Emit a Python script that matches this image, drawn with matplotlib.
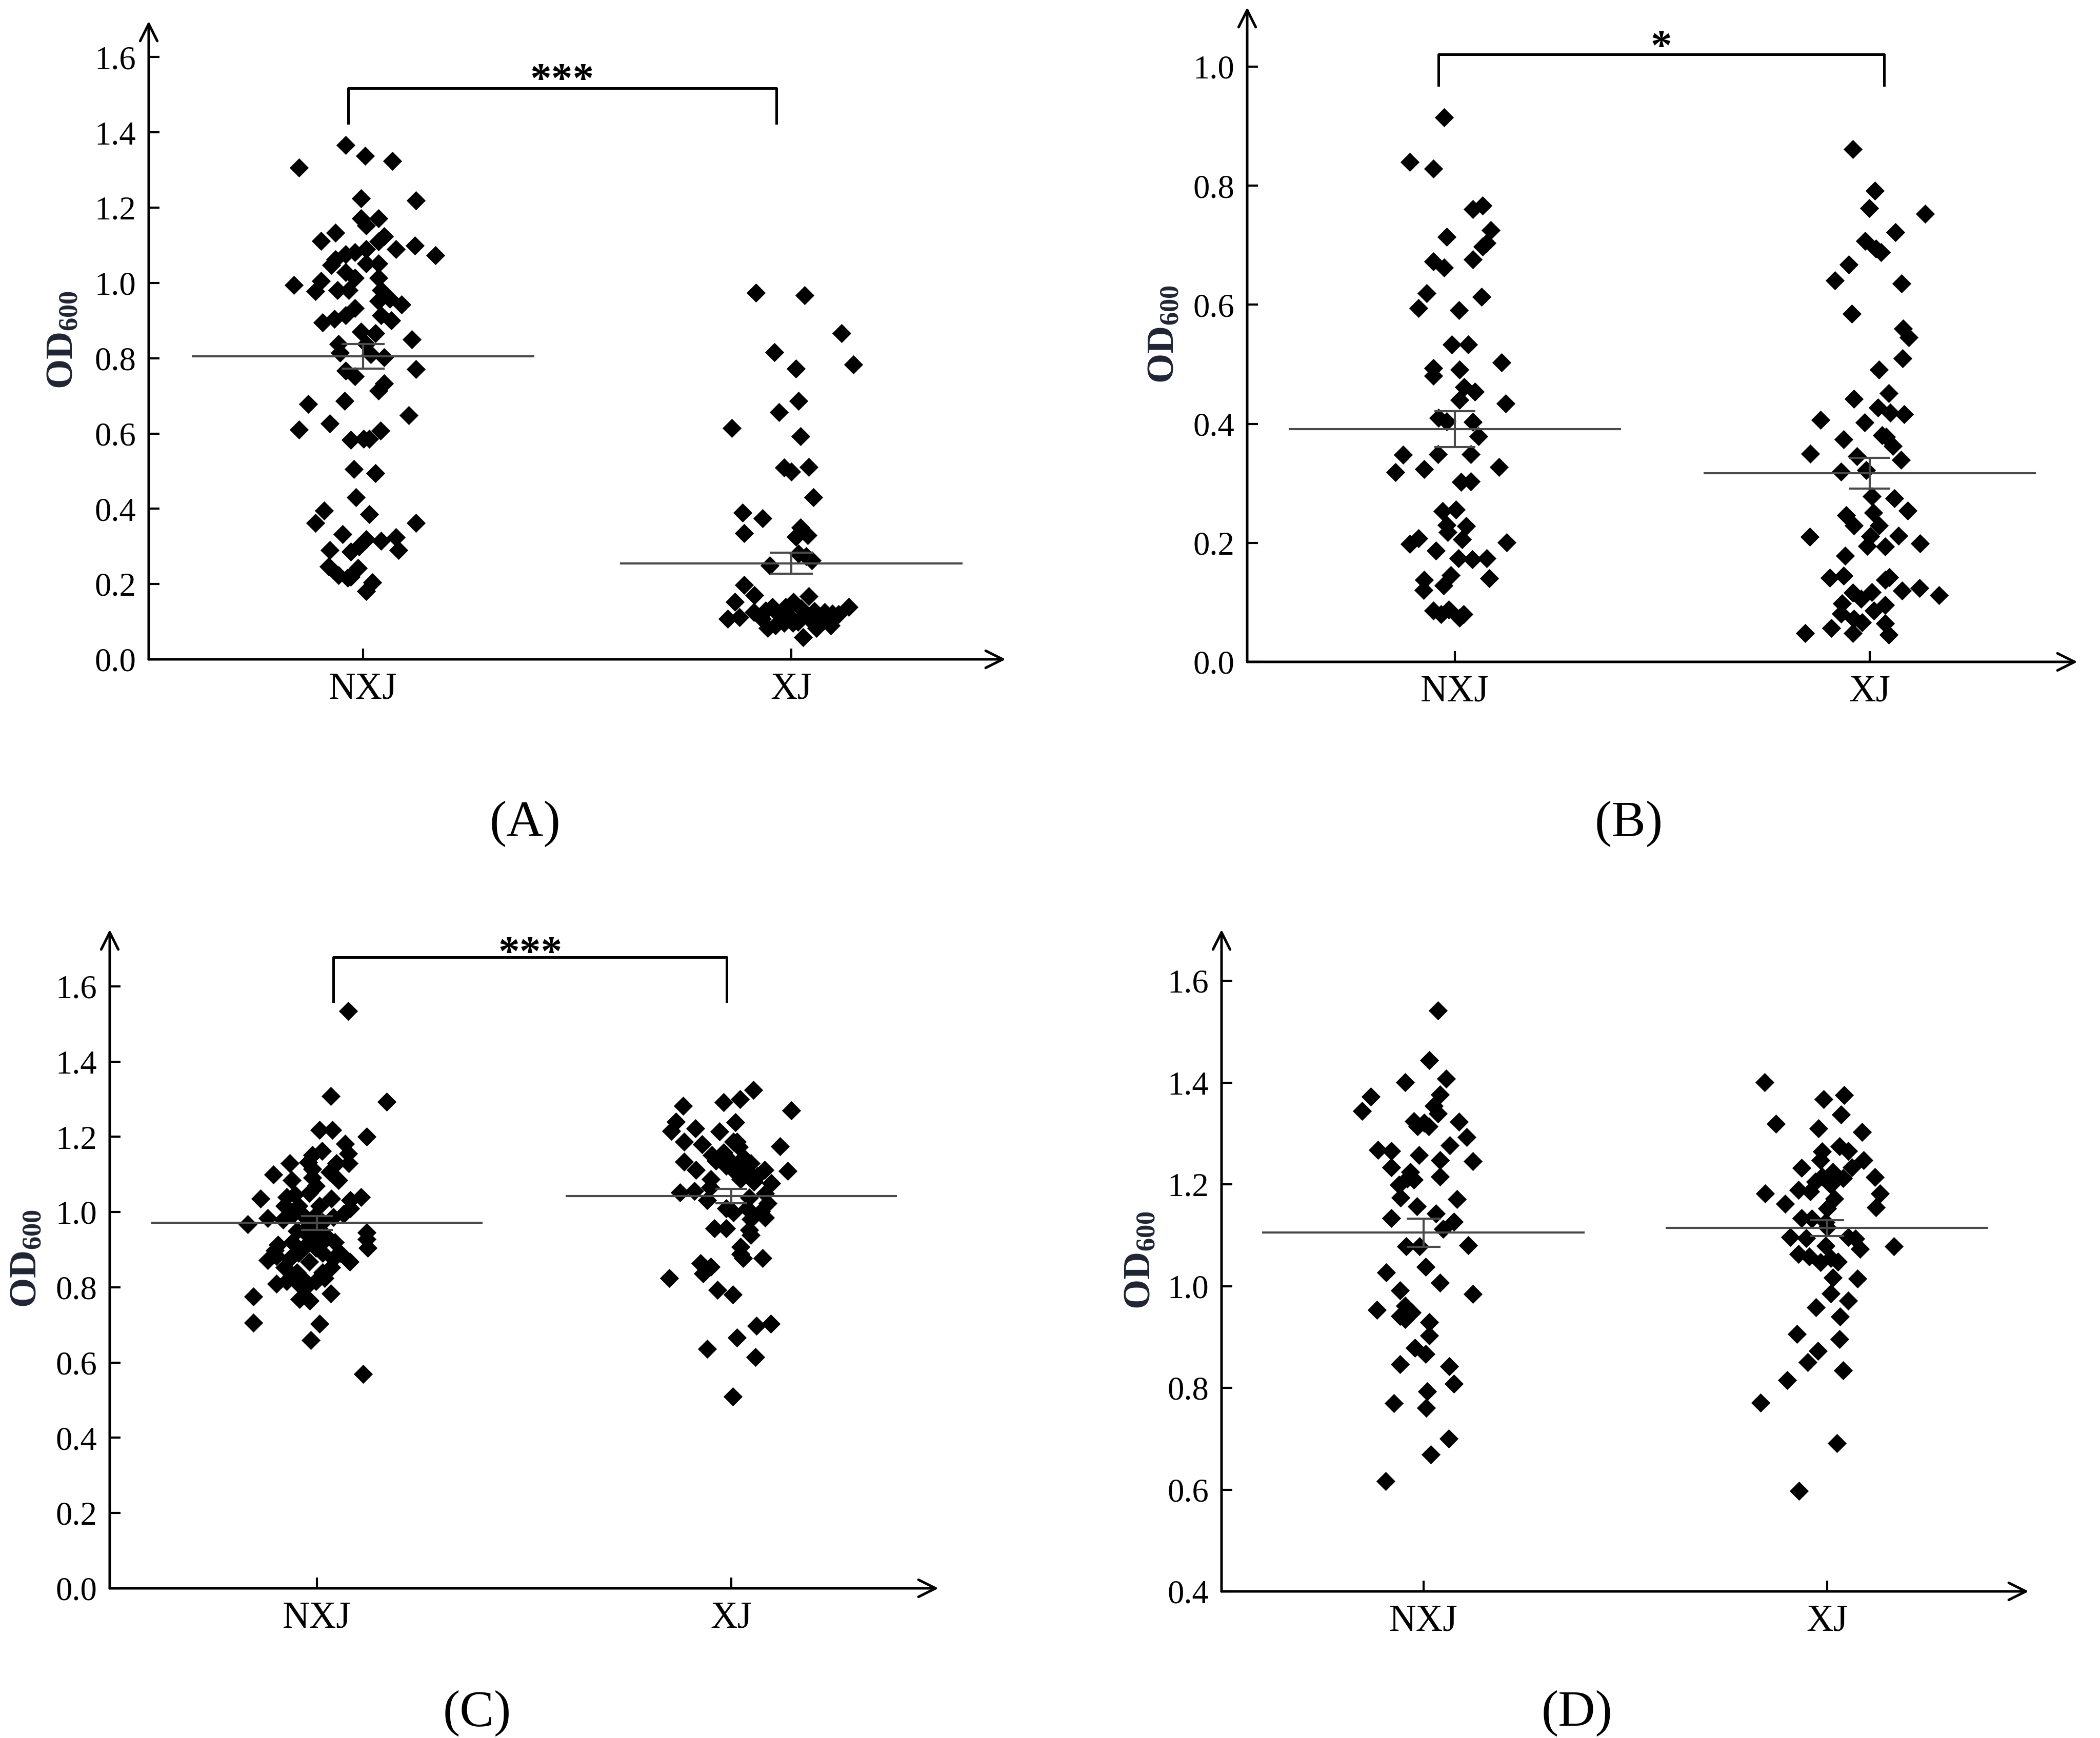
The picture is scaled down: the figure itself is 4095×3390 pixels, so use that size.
"""OD600 scatter panels (A-D): NXJ vs XJ, mean line + SEM, significance brackets."""

import matplotlib
matplotlib.use("Agg")
import matplotlib.pyplot as plt

plt.rcParams["font.family"] = ["Liberation Serif", "DejaVu Serif"]
plt.rcParams["mathtext.fontset"] = "custom"
plt.rcParams["mathtext.rm"] = "Liberation Serif"
plt.rcParams["mathtext.bf"] = "Liberation Serif:bold"
plt.rcParams["mathtext.default"] = "regular"

W, H, DPI = 4095, 3390, 300
GROUPS = ["NXJ", "XJ"]
INK = "black"
MEAN_C = "#4a4a4a"

# ---- panel A ---------------------------------------------------------------
A_NXJ_Y = [1.367, 1.338, 1.324, 1.307, 1.224, 1.219, 1.171, 1.171, 1.152, 1.133,
           1.124, 1.112, 1.110, 1.090, 1.100, 1.074, 1.090, 1.081, 1.076, 1.062,
           1.048, 1.052, 1.052, 1.029, 1.014, 1.014, 0.995, 1.005, 0.978, 0.981,
           0.981, 0.981, 0.933, 0.952, 0.957, 0.943, 0.895, 0.905, 0.914, 0.914,
           0.900, 0.871, 0.867, 0.838, 0.838, 0.850, 0.814, 0.810, 0.802, 0.767,
           0.752, 0.771, 0.733, 0.714, 0.678, 0.686, 0.610, 0.627, 0.648, 0.583,
           0.586, 0.586, 0.608, 0.505, 0.495, 0.430, 0.395, 0.386, 0.362, 0.362,
           0.333, 0.319, 0.314, 0.324, 0.290, 0.286, 0.300, 0.290, 0.246, 0.243,
           0.224, 0.219, 0.205, 0.181, 0.217]
A_NXJ_DX = [-0.040, 0.005, 0.068, -0.149, -0.005, 0.123, -0.005, 0.036, 0.008, -0.064,
            0.049, -0.098, 0.036, 0.077, 0.121, 0.169, 0.008, -0.019, -0.040, -0.064,
            -0.074, 0.008, 0.036, -0.040, -0.019, 0.036, -0.161, -0.098, -0.111, -0.060,
            -0.033, 0.042, -0.019, 0.036, 0.063, 0.090, -0.094, -0.067, -0.040, 0.042,
            0.066, -0.005, 0.029, -0.057, 0.008, 0.114, -0.053, 0.018, 0.049, -0.040,
            -0.019, 0.124, 0.049, 0.036, -0.128, -0.043, -0.149, -0.077, 0.107, -0.029,
            0.001, 0.015, 0.041, -0.021, 0.029, -0.016, -0.091, 0.015, -0.111, 0.124,
            -0.048, 0.008, 0.042, 0.077, -0.077, -0.029, -0.009, 0.083, -0.080, -0.012,
            -0.057, -0.029, 0.022, 0.008, -0.036]
A_XJ_Y = [0.974, 0.967, 0.866, 0.816, 0.783, 0.773, 0.687, 0.657, 0.615, 0.593,
          0.509, 0.498, 0.511, 0.431, 0.389, 0.374, 0.335, 0.350, 0.326, 0.329,
          0.281, 0.249, 0.263, 0.274, 0.198, 0.170, 0.168, 0.152, 0.139, 0.107,
          0.112, 0.125, 0.107, 0.083, 0.139, 0.118, 0.139, 0.152, 0.097, 0.135,
          0.059, 0.111, 0.128, 0.100, 0.125, 0.090, 0.121, 0.097, 0.090, 0.083,
          0.115, 0.105, 0.130, 0.100, 0.120]
A_XJ_DX = [-0.083, 0.031, 0.117, -0.040, 0.144, 0.011, 0.017, -0.029, -0.139, 0.021,
           -0.017, 0.000, 0.040, 0.051, -0.114, -0.067, -0.111, 0.021, 0.011, 0.038,
           0.017, -0.051, 0.048, 0.035, -0.111, -0.087, 0.040, -0.132, 0.134, -0.149,
           -0.121, -0.088, -0.069, -0.055, -0.045, -0.029, -0.013, 0.005, 0.003, 0.023,
           0.027, 0.039, 0.054, 0.066, 0.078, 0.092, 0.096, -0.017, -0.037, 0.058,
           -0.005, 0.070, -0.060, 0.015, 0.110]
A_MEAN = [0.805, 0.255]
A_SEM = [0.033, 0.028]

# ---- panel B ---------------------------------------------------------------
B_NXJ_Y = [0.915, 0.840, 0.829, 0.761, 0.767, 0.725, 0.714, 0.698, 0.704, 0.673,
           0.662, 0.676, 0.619, 0.594, 0.613, 0.591, 0.533, 0.533, 0.503, 0.494,
           0.481, 0.491, 0.462, 0.454, 0.440, 0.434, 0.410, 0.404, 0.403, 0.379,
           0.348, 0.349, 0.349, 0.319, 0.324, 0.327, 0.302, 0.303, 0.253, 0.256,
           0.230, 0.228, 0.218, 0.206, 0.198, 0.208, 0.201, 0.187, 0.174, 0.172,
           0.174, 0.138, 0.146, 0.121, 0.128, 0.140, 0.086, 0.080, 0.088, 0.074,
           0.080]
B_NXJ_DX = [-0.026, -0.108, -0.052, 0.043, 0.067, 0.087, -0.019, 0.067, 0.077, -0.051,
            -0.026, 0.043, -0.068, -0.088, 0.064, 0.010, -0.007, 0.033, 0.113, -0.052,
            -0.052, 0.012, 0.023, 0.049, 0.011, 0.123, -0.039, -0.019, 0.043, 0.057,
            -0.124, -0.041, 0.038, -0.143, -0.074, 0.107, 0.015, 0.039, -0.029, 0.003,
            -0.019, 0.028, -0.017, 0.017, -0.109, -0.087, 0.125, -0.046, 0.009, 0.042,
            0.077, -0.074, -0.009, -0.075, -0.027, 0.083, -0.051, -0.033, -0.015, 0.011,
            0.021]
B_XJ_Y = [0.861, 0.792, 0.762, 0.753, 0.722, 0.707, 0.694, 0.688, 0.668, 0.641,
          0.636, 0.585, 0.560, 0.545, 0.510, 0.491, 0.442, 0.451, 0.427, 0.419,
          0.416, 0.407, 0.402, 0.374, 0.381, 0.378, 0.363, 0.350, 0.345, 0.339,
          0.320, 0.322, 0.278, 0.275, 0.254, 0.246, 0.251, 0.229, 0.229, 0.210,
          0.211, 0.212, 0.195, 0.194, 0.199, 0.178, 0.141, 0.145, 0.138, 0.142,
          0.116, 0.117, 0.120, 0.124, 0.112, 0.098, 0.106, 0.086, 0.096, 0.081,
          0.072, 0.066, 0.065, 0.048, 0.057, 0.048, 0.046]
B_XJ_DX = [-0.041, 0.012, -0.002, 0.133, 0.062, -0.012, 0.015, 0.027, -0.051, -0.084,
           0.076, -0.044, 0.080, 0.093, 0.079, 0.022, -0.039, 0.045, 0.019, 0.049,
           0.082, -0.119, -0.013, -0.063, 0.029, 0.039, 0.055, -0.144, -0.031, 0.075,
           -0.070, -0.009, 0.005, 0.059, 0.091, -0.057, 0.008, -0.039, 0.022, -0.145,
           0.001, 0.069, -0.007, 0.037, 0.121, -0.060, -0.097, -0.063, 0.037, 0.047,
           -0.041, 0.005, 0.077, 0.119, 0.167, -0.067, -0.021, 0.009, 0.037, -0.069,
           -0.039, -0.019, 0.037, -0.156, -0.093, -0.041, 0.045]
B_MEAN = [0.391, 0.317]
B_SEM = [0.030, 0.026]

# ---- panel C ---------------------------------------------------------------
C_NXJ_Y = [1.535, 1.308, 1.293, 1.218, 1.218, 1.201, 1.181, 1.162, 1.155, 1.133,
           1.129, 1.129, 1.114, 1.099, 1.084, 1.107, 1.092, 1.084, 1.069, 1.036,
           1.040, 1.047, 1.051, 1.036, 1.040, 1.017, 1.017, 1.017, 1.010, 0.967,
           0.984, 0.980, 0.995, 0.987, 0.973, 0.987, 0.995, 0.965, 0.950, 0.950,
           0.946, 0.928, 0.905, 0.913, 0.920, 0.909, 0.920, 0.920, 0.872, 0.883,
           0.876, 0.891, 0.868, 0.891, 0.876, 0.868, 0.853, 0.839, 0.839, 0.853,
           0.809, 0.816, 0.809, 0.798, 0.775, 0.768, 0.764, 0.783, 0.706, 0.703,
           0.660, 0.570, 0.824, 0.816, 0.824, 0.831, 0.891, 0.935, 0.935, 1.151,
           1.129, 0.995, 1.032, 0.898, 0.905]
C_NXJ_DX = [0.076, 0.033, 0.168, 0.006, 0.037, 0.120, 0.068, 0.012, 0.075, -0.021,
            -0.065, 0.077, -0.011, -0.105, -0.061, 0.031, -0.011, 0.052, -0.003, -0.136,
            -0.073, -0.053, -0.019, 0.035, 0.106, -0.078, -0.044, 0.006, 0.081, -0.167,
            -0.119, -0.082, -0.036, -0.007, 0.014, 0.039, 0.064, -0.019, -0.048, 0.002,
            0.120, 0.120, 0.123, -0.094, -0.060, -0.028, 0.014, 0.043, -0.119, -0.098,
            -0.065, -0.044, -0.019, 0.014, 0.039, 0.079, -0.078, -0.048, 0.014, 0.035,
            -0.098, -0.073, -0.044, -0.028, -0.153, -0.042, -0.017, 0.034, -0.153, 0.006,
            -0.015, 0.112, 0.018, -0.002, -0.036, -0.061, 0.056, -0.019, 0.023, -0.011,
            0.047, -0.057, 0.081, -0.102, -0.003]
C_XJ_Y = [1.325, 1.292, 1.300, 1.282, 1.270, 1.240, 1.238, 1.215, 1.222, 1.214,
          1.187, 1.180, 1.187, 1.173, 1.174, 1.151, 1.158, 1.137, 1.144, 1.130,
          1.134, 1.112, 1.137, 1.112, 1.109, 1.102, 1.112, 1.109, 1.087, 1.087,
          1.080, 1.077, 1.066, 1.052, 1.056, 1.031, 1.038, 1.049, 1.024, 1.010,
          0.999, 1.010, 1.002, 0.981, 0.985, 0.956, 0.956, 0.953, 0.939, 0.907,
          0.889, 0.878, 0.878, 0.864, 0.850, 0.854, 0.836, 0.825, 0.793, 0.781,
          0.698, 0.703, 0.667, 0.637, 0.614, 0.510, 1.187, 1.123, 1.123, 1.095]
C_XJ_DX = [0.053, -0.018, 0.021, -0.116, 0.145, -0.134, 0.010, -0.145, -0.087, -0.029,
           -0.114, -0.070, 0.005, 0.018, 0.118, -0.047, -0.018, -0.003, 0.030, 0.047,
           -0.114, -0.085, -0.037, 0.005, 0.022, 0.043, 0.080, 0.136, -0.049, 0.022,
           0.055, 0.097, -0.051, -0.124, -0.089, -0.058, 0.043, 0.082, 0.088, -0.012,
           0.005, 0.038, 0.072, 0.047, 0.082, -0.041, -0.012, 0.043, 0.047, 0.022,
           0.022, 0.028, 0.076, -0.074, -0.062, -0.049, -0.068, -0.150, -0.033, 0.004,
           0.061, 0.095, 0.013, -0.058, 0.058, 0.004, 0.013, -0.012, 0.030, 0.063]
C_MEAN = [0.971, 1.042]
C_SEM = [0.018, 0.019]

# ---- panel D ---------------------------------------------------------------
D_NXJ_Y = [1.542, 1.444, 1.401, 1.408, 1.372, 1.377, 1.344, 1.354, 1.339, 1.324,
           1.314, 1.321, 1.314, 1.323, 1.293, 1.268, 1.266, 1.258, 1.277, 1.246,
           1.248, 1.233, 1.224, 1.211, 1.215, 1.199, 1.209, 1.174, 1.171, 1.157,
           1.134, 1.143, 1.127, 1.112, 1.078, 1.078, 1.080, 1.038, 1.027, 1.007,
           0.984, 0.992, 0.953, 0.961, 0.941, 0.948, 0.935, 0.929, 0.903, 0.879,
           0.867, 0.846, 0.842, 0.808, 0.793, 0.770, 0.761, 0.700, 0.669, 0.617]
D_NXJ_DX = [0.036, 0.014, -0.045, 0.056, -0.130, 0.041, -0.152, 0.026, 0.036, -0.024,
            -0.015, 0.002, 0.013, 0.088, 0.108, -0.113, -0.079, -0.011, 0.066, 0.122,
            0.041, -0.079, -0.032, -0.040, 0.041, -0.060, -0.024, -0.056, 0.083, -0.016,
            -0.079, 0.031, 0.075, 0.049, -0.043, -0.009, 0.111, 0.006, -0.092, 0.041,
            0.122, -0.058, -0.115, -0.045, -0.058, -0.028, -0.045, 0.014, 0.015, -0.021,
            0.006, -0.058, 0.064, 0.076, 0.010, -0.073, 0.007, 0.063, 0.018, -0.093]
D_XJ_Y = [1.401, 1.367, 1.376, 1.337, 1.319, 1.310, 1.303, 1.265, 1.275, 1.266,
          1.248, 1.232, 1.248, 1.233, 1.215, 1.224, 1.212, 1.214, 1.182, 1.189,
          1.186, 1.182, 1.162, 1.172, 1.153, 1.155, 1.134, 1.133, 1.126, 1.116,
          1.096, 1.094, 1.096, 1.093, 1.073, 1.078, 1.079, 1.063, 1.058, 1.047,
          1.055, 1.048, 1.017, 1.015, 0.986, 0.971, 0.958, 0.940, 0.906, 0.896,
          0.873, 0.850, 0.834, 0.815, 0.771, 0.691, 0.598, 1.199, 1.205]
D_XJ_DX = [-0.155, -0.008, 0.043, 0.035, -0.127, -0.021, 0.087, -0.012, 0.031, 0.053,
           -0.016, -0.063, 0.091, 0.061, -0.012, 0.014, 0.040, 0.119, -0.153, -0.071,
           -0.041, 0.132, -0.104, 0.018, 0.001, 0.121, -0.063, -0.037, -0.003, 0.001,
           -0.091, -0.052, 0.053, 0.070, 0.082, 0.166, -0.003, -0.071, -0.044, -0.016,
           0.010, 0.027, 0.014, 0.076, 0.010, 0.053, -0.027, 0.033, -0.074, 0.031,
           -0.022, -0.048, 0.040, -0.099, -0.165, 0.025, -0.069, 0.010, -0.029]
D_MEAN = [1.105, 1.114]
D_SEM = [0.028, 0.016]


def px_axes(fig, left, right, top, bottom):
    """Axes placed by pixel box of the 4095x3390 canvas."""
    return fig.add_axes([left / W, 1 - bottom / H, (right - left) / W, (bottom - top) / H])


def panel(ax, series, means, sems, ylim, yticks, capsize):
    ax.set_xlim(-0.5, 1.5)
    ax.set_ylim(*ylim)
    for sp in ax.spines.values():
        sp.set_visible(False)
    # axes drawn as open arrows
    arrow = dict(arrowstyle="->", lw=1.2, color=INK, shrinkA=0, shrinkB=0,
                 mutation_scale=20)
    ax.annotate("", xy=(0, 1), xytext=(0, 0), xycoords="axes fraction", arrowprops=arrow)
    ax.annotate("", xy=(1, 0), xytext=(0, 0), xycoords="axes fraction", arrowprops=arrow)

    for i, (ys, dxs) in enumerate(series):
        ax.scatter([i + d for d in dxs], ys, marker="D", s=40, c=INK,
                   linewidths=0, zorder=3)
        ax.hlines(means[i], i - 0.4, i + 0.4, color=MEAN_C, lw=1.0, zorder=4)
        ax.errorbar(i, means[i], yerr=sems[i], fmt="none", ecolor=MEAN_C,
                    elinewidth=1.0, capsize=capsize, capthick=1.0, zorder=4)

    ax.set_xticks([0, 1])
    ax.set_xticklabels(GROUPS, fontsize=17.5)
    ax.set_yticks(yticks)
    ax.set_yticklabels([f"{t:.1f}" for t in yticks], fontsize=15.5)
    ax.tick_params(direction="in", length=5, width=1, pad=6, colors=INK)
    ax.text(-0.1, 0.5, "OD$_{600}$", transform=ax.transAxes, rotation=90,
            ha="center", va="center", fontsize=18, fontweight="bold", color="#1f2533")


def bracket(ax, x1, x2, y_top, y_leg, stars, dy=0.0):
    ax.plot([x1, x1, x2, x2], [y_leg, y_top, y_top, y_leg], color=INK, lw=1.2,
            clip_on=False, zorder=5)
    ax.text((x1 + x2) / 2, y_top - dy, stars, ha="center", va="baseline",
            fontsize=20, fontweight="bold", color=INK)


fig = plt.figure(figsize=(W / DPI, H / DPI), dpi=DPI)
fig.set_facecolor("white")

ticks_a = [0.0, 0.2, 0.4, 0.6, 0.8, 1.0, 1.2, 1.4, 1.6]
ticks_b = [0.0, 0.2, 0.4, 0.6, 0.8, 1.0]
ticks_d = [0.4, 0.6, 0.8, 1.0, 1.2, 1.4, 1.6]

ax_a = px_axes(fig, 290, 1961, 41, 1286)
panel(ax_a, [(A_NXJ_Y, A_NXJ_DX), (A_XJ_Y, A_XJ_DX)], A_MEAN, A_SEM,
      (0, 1.696), ticks_a, 10)
bracket(ax_a, -0.035, 0.965, 1.518, 1.425, "***", dy=0.01)

ax_b = px_axes(fig, 2432, 4051, 14, 1291)
panel(ax_b, [(B_NXJ_Y, B_NXJ_DX), (B_XJ_Y, B_XJ_DX)], B_MEAN, B_SEM,
      (0, 1.100), ticks_b, 9.5)
bracket(ax_b, -0.039, 1.034, 1.021, 0.969, "*", dy=0.008)

ax_c = px_axes(fig, 214, 1830, 1813, 3098)
panel(ax_c, [(C_NXJ_Y, C_NXJ_DX), (C_XJ_Y, C_XJ_DX)], C_MEAN, C_SEM,
      (0, 1.751), ticks_a, 7.5)
bracket(ax_c, 0.040, 0.989, 1.677, 1.560, "***", dy=0.02)

ax_d = px_axes(fig, 2382, 3956, 1813, 3104)
panel(ax_d, [(D_NXJ_Y, D_NXJ_DX), (D_XJ_Y, D_XJ_DX)], D_MEAN, D_SEM,
      (0.4, 1.701), ticks_d, 8)

for lbl, x, y in [("(A)", 1024, 1607), ("(B)", 3176, 1607),
                  ("(C)", 930, 3342), ("(D)", 3075, 3342)]:
    fig.text(x / W, 1 - y / H, lbl, ha="center", va="center", fontsize=24, color=INK)

fig.savefig("out.png", dpi=DPI, facecolor="white")
